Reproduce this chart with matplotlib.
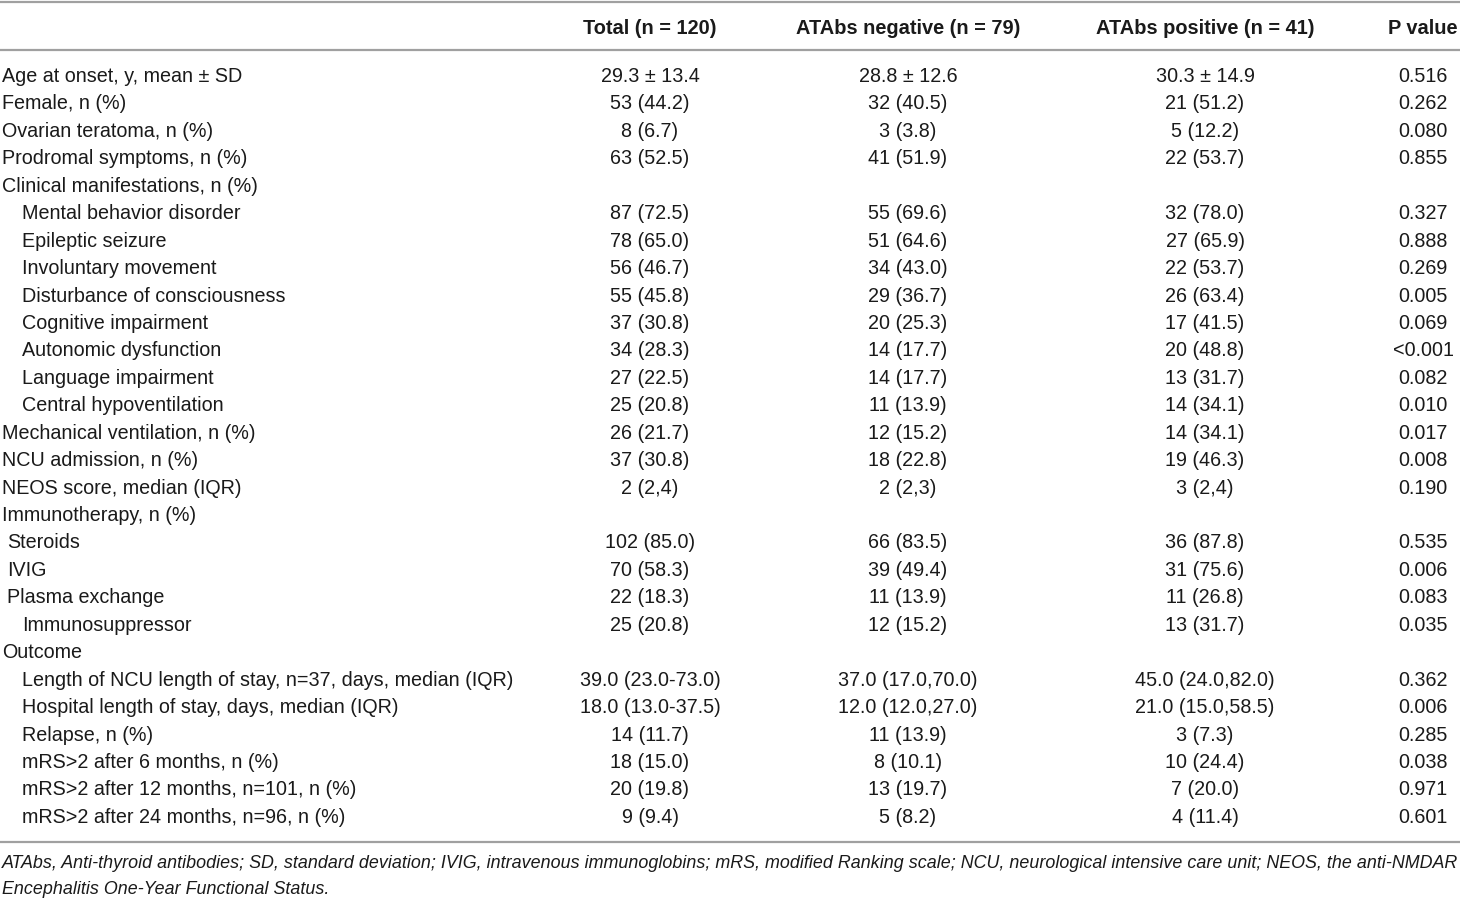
import matplotlib.pyplot as plt

# column headers
headers = ["Total (n = 120)", "ATAbs negative (n = 79)", "ATAbs positive (n = 41)", "P value"]

# row labels (leading spaces = indent as in the source table)
labels = [
    "Age at onset, y, mean ± SD",
    "Female, n (%)",
    "Ovarian teratoma, n (%)",
    "Prodromal symptoms, n (%)",
    "Clinical manifestations, n (%)",
    "  Mental behavior disorder",
    "  Epileptic seizure",
    "  Involuntary movement",
    "  Disturbance of consciousness",
    "  Cognitive impairment",
    "  Autonomic dysfunction",
    "  Language impairment",
    "  Central hypoventilation",
    "Mechanical ventilation, n (%)",
    "NCU admission, n (%)",
    "NEOS score, median (IQR)",
    "Immunotherapy, n (%)",
    " Steroids",
    " IVIG",
    " Plasma exchange",
    "  Immunosuppressor",
    "Outcome",
    "  Length of NCU length of stay, n=37, days, median (IQR)",
    "  Hospital length of stay, days, median (IQR)",
    "  Relapse, n (%)",
    "  mRS>2 after 6 months, n (%)",
    "  mRS>2 after 12 months, n=101, n (%)",
    "  mRS>2 after 24 months, n=96, n (%)",
]

total = ["29.3 ± 13.4", "53 (44.2)", "8 (6.7)", "63 (52.5)", "",
         "87 (72.5)", "78 (65.0)", "56 (46.7)", "55 (45.8)", "37 (30.8)",
         "34 (28.3)", "27 (22.5)", "25 (20.8)", "26 (21.7)", "37 (30.8)",
         "2 (2,4)", "", "102 (85.0)", "70 (58.3)", "22 (18.3)", "25 (20.8)", "",
         "39.0 (23.0-73.0)", "18.0 (13.0-37.5)", "14 (11.7)", "18 (15.0)",
         "20 (19.8)", "9 (9.4)"]

negative = ["28.8 ± 12.6", "32 (40.5)", "3 (3.8)", "41 (51.9)", "",
            "55 (69.6)", "51 (64.6)", "34 (43.0)", "29 (36.7)", "20 (25.3)",
            "14 (17.7)", "14 (17.7)", "11 (13.9)", "12 (15.2)", "18 (22.8)",
            "2 (2,3)", "", "66 (83.5)", "39 (49.4)", "11 (13.9)", "12 (15.2)", "",
            "37.0 (17.0,70.0)", "12.0 (12.0,27.0)", "11 (13.9)", "8 (10.1)",
            "13 (19.7)", "5 (8.2)"]

positive = ["30.3 ± 14.9", "21 (51.2)", "5 (12.2)", "22 (53.7)", "",
            "32 (78.0)", "27 (65.9)", "22 (53.7)", "26 (63.4)", "17 (41.5)",
            "20 (48.8)", "13 (31.7)", "14 (34.1)", "14 (34.1)", "19 (46.3)",
            "3 (2,4)", "", "36 (87.8)", "31 (75.6)", "11 (26.8)", "13 (31.7)", "",
            "45.0 (24.0,82.0)", "21.0 (15.0,58.5)", "3 (7.3)", "10 (24.4)",
            "7 (20.0)", "4 (11.4)"]

pvals = ["0.516", "0.262", "0.080", "0.855", "",
         "0.327", "0.888", "0.269", "0.005", "0.069",
         "<0.001", "0.082", "0.010", "0.017", "0.008",
         "0.190", "", "0.535", "0.006", "0.083", "0.035", "",
         "0.362", "0.006", "0.285", "0.038", "0.971", "0.601"]

footnote = ["ATAbs, Anti-thyroid antibodies; SD, standard deviation; IVIG, intravenous immunoglobins; "
            "mRS, modified Ranking scale; NCU, neurological intensive care unit; NEOS, the anti-NMDAR",
            "Encephalitis One-Year Functional Status."]

plt.rcParams['font.family'] = ['Liberation Sans', 'DejaVu Sans']

fig = plt.figure(figsize=(14.6, 8.98), dpi=100)
ax = fig.add_axes([0, 0, 1, 1])
ax.set_xlim(0, 1460)
ax.set_ylim(898, 0)
ax.axis('off')

txt = '#1a1a1a'
fs = 14.2
col_x = [650, 908, 1205, 1423]

# rules
for y in [2, 50, 842]:
    ax.plot([0, 1460], [y, y], color='#a0a0a0', lw=1.6, solid_capstyle='butt')

# header
for x, h in zip(col_x, headers):
    ax.text(x, 34, h, ha='center', va='baseline', fontsize=14.4,
            fontweight='bold', color=txt)

# body
y0, dy = 82, 27.44
indent = {0: 2, 1: 7, 2: 22}
for i, lab in enumerate(labels):
    y = y0 + i * dy
    n = len(lab) - len(lab.lstrip(' '))
    ax.text(indent[n], y, lab.strip(), ha='left', va='baseline', fontsize=fs, color=txt)
    for x, col in zip(col_x, [total, negative, positive, pvals]):
        if col[i]:
            ax.text(x, y, col[i], ha='center', va='baseline', fontsize=fs, color=txt)

# footnote
for k, line in enumerate(footnote):
    ax.text(2, 868 + k * 26, line, ha='left', va='baseline', fontsize=12.9,
            style='italic', color=txt)

fig.savefig('out.png', dpi=100)
